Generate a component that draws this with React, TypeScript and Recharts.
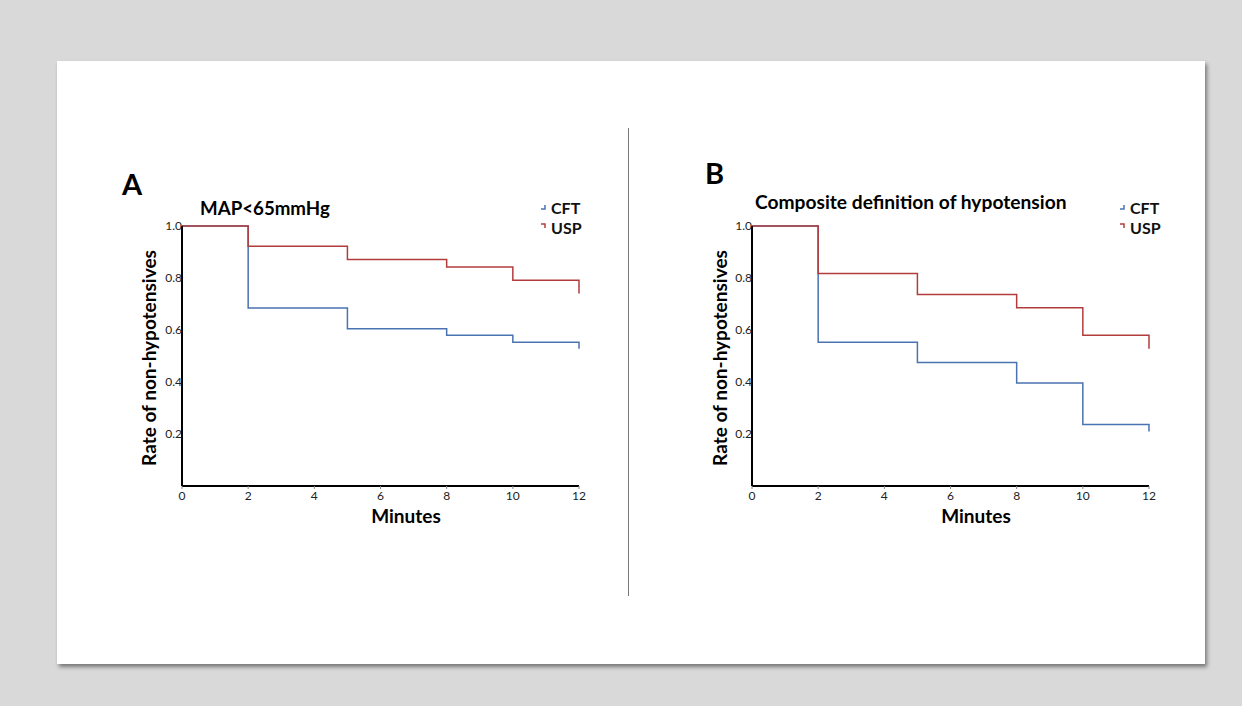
import React from 'react';
import { LineChart, Line, XAxis, YAxis, Legend } from 'recharts';

const minutes = [0, 2, 5, 8, 10, 12];
const cftA = [1.0, 0.685, 0.605, 0.58, 0.553, 0.528];
const uspA = [1.0, 0.922, 0.871, 0.842, 0.791, 0.74];
const cftB = [1.0, 0.553, 0.475, 0.396, 0.237, 0.21];
const uspB = [1.0, 0.817, 0.737, 0.686, 0.58, 0.528];
const xTicks = [0, 2, 4, 6, 8, 10, 12];
const yTicks = [0, 0.2, 0.4, 0.6, 0.8, 1.0];
const seriesNames = ['CFT', 'USP'];
const panelLetters = ['A', 'B'];
const panelTitles = ['MAP<65mmHg', 'Composite definition of hypotension'];
const xLabel = 'Minutes';
const yLabel = 'Rate of non-hypotensives';

const BLUE = '#4a73b1';
const RED = '#b23c3c';
const FONT = 'Lato, "Open Sans", sans-serif';

const build = (cft: number[], usp: number[]) =>
  minutes.map((t, i) => ({ t, cft: cft[i], usp: usp[i] }));

const LegendContent = (props: any) => {
  const payload = props.payload || [];
  return (
    <div style={{ fontFamily: FONT, fontWeight: 700, fontSize: 16, color: '#111' }}>
      {payload.map((p: any, i: number) => (
        <div key={i} style={{ display: 'flex', alignItems: 'center', height: 20 }}>
          <svg width={8} height={10} style={{ marginRight: 3 }}>
            {p.dataKey === 'cft' ? (
              <path d="M5 3 V7 H1" stroke={p.color} strokeWidth={1.5} fill="none" />
            ) : (
              <path d="M1 2 H5 V6" stroke={p.color} strokeWidth={1.5} fill="none" />
            )}
          </svg>
          <span>{p.value}</span>
        </div>
      ))}
    </div>
  );
};

const Panel = ({ data, legendLeft }: { data: any[]; legendLeft: number }) => (
  <LineChart width={520} height={400} data={data} margin={{ top: 36, right: 41, left: 52, bottom: 34 }}>
    <XAxis
      dataKey="t"
      type="number"
      domain={[0, 12]}
      ticks={xTicks}
      axisLine={{ stroke: '#000', strokeWidth: 2 }}
      tickLine={{ stroke: '#888' }}
      tickSize={3}
      tickMargin={2}
      height={30}
      tick={{ fontSize: 12, fill: '#222', fontFamily: FONT }}
    />
    <YAxis
      type="number"
      domain={[0, 1]}
      ticks={yTicks}
      width={30}
      axisLine={{ stroke: '#000', strokeWidth: 2 }}
      tickLine={false}
      tickSize={0}
      tickMargin={0}
      tickFormatter={(v: number) => (v === 0 ? '' : v.toFixed(1))}
      tick={{ fontSize: 12, fill: '#222', fontFamily: FONT }}
    />
    <Legend
      layout="vertical"
      align="center"
      verticalAlign="top"
      content={<LegendContent />}
      wrapperStyle={{ left: legendLeft, top: 47, width: 60 }}
    />
    <Line type="stepAfter" dataKey="cft" name={seriesNames[0]} stroke={BLUE} strokeWidth={1.5} dot={false} isAnimationActive={false} />
    <Line type="stepAfter" dataKey="usp" name={seriesNames[1]} stroke={RED} strokeWidth={1.5} dot={false} isAnimationActive={false} />
  </LineChart>
);

const text = (s: React.CSSProperties): React.CSSProperties => ({
  position: 'absolute',
  fontFamily: FONT,
  fontWeight: 700,
  color: '#000',
  whiteSpace: 'nowrap',
  lineHeight: 1,
  ...s,
});

export default function App() {
  const dataA = build(cftA, uspA);
  const dataB = build(cftB, uspB);
  return (
    <div style={{ position: 'fixed', left: 0, top: 0, width: 1242, height: 706, background: '#d9d9d9', overflow: 'hidden' }}>
      <div
        style={{
          position: 'absolute',
          left: 57,
          top: 61,
          width: 1148,
          height: 603,
          background: '#fff',
          boxShadow: '2px 3px 4px rgba(0,0,0,0.45)',
        }}
      />
      <div style={{ position: 'absolute', left: 628, top: 128, width: 1, height: 468, background: '#777' }} />

      <div style={{ position: 'absolute', left: 100, top: 150 }}>
        <Panel data={dataA} legendLeft={440} />
      </div>
      <div style={{ position: 'absolute', left: 670, top: 150 }}>
        <Panel data={dataB} legendLeft={449} />
      </div>

      <div style={text({ left: 122, top: 169, fontSize: 29 })}>{panelLetters[0]}</div>
      <div style={text({ left: 705, top: 158, fontSize: 29 })}>{panelLetters[1]}</div>

      <div style={text({ left: 200, top: 199, fontSize: 18.7 })}>{panelTitles[0]}</div>
      <div style={text({ left: 755, top: 192, fontSize: 19.2 })}>{panelTitles[1]}</div>

      <div style={text({ left: 406, top: 506, fontSize: 19, transform: 'translateX(-50%)' })}>{xLabel}</div>
      <div style={text({ left: 976, top: 506, fontSize: 19, transform: 'translateX(-50%)' })}>{xLabel}</div>

      <div style={text({ left: 148, top: 358, fontSize: 19, transform: 'translate(-50%, -50%) rotate(-90deg)' })}>{yLabel}</div>
      <div style={text({ left: 719, top: 358, fontSize: 19, transform: 'translate(-50%, -50%) rotate(-90deg)' })}>{yLabel}</div>
    </div>
  );
}
